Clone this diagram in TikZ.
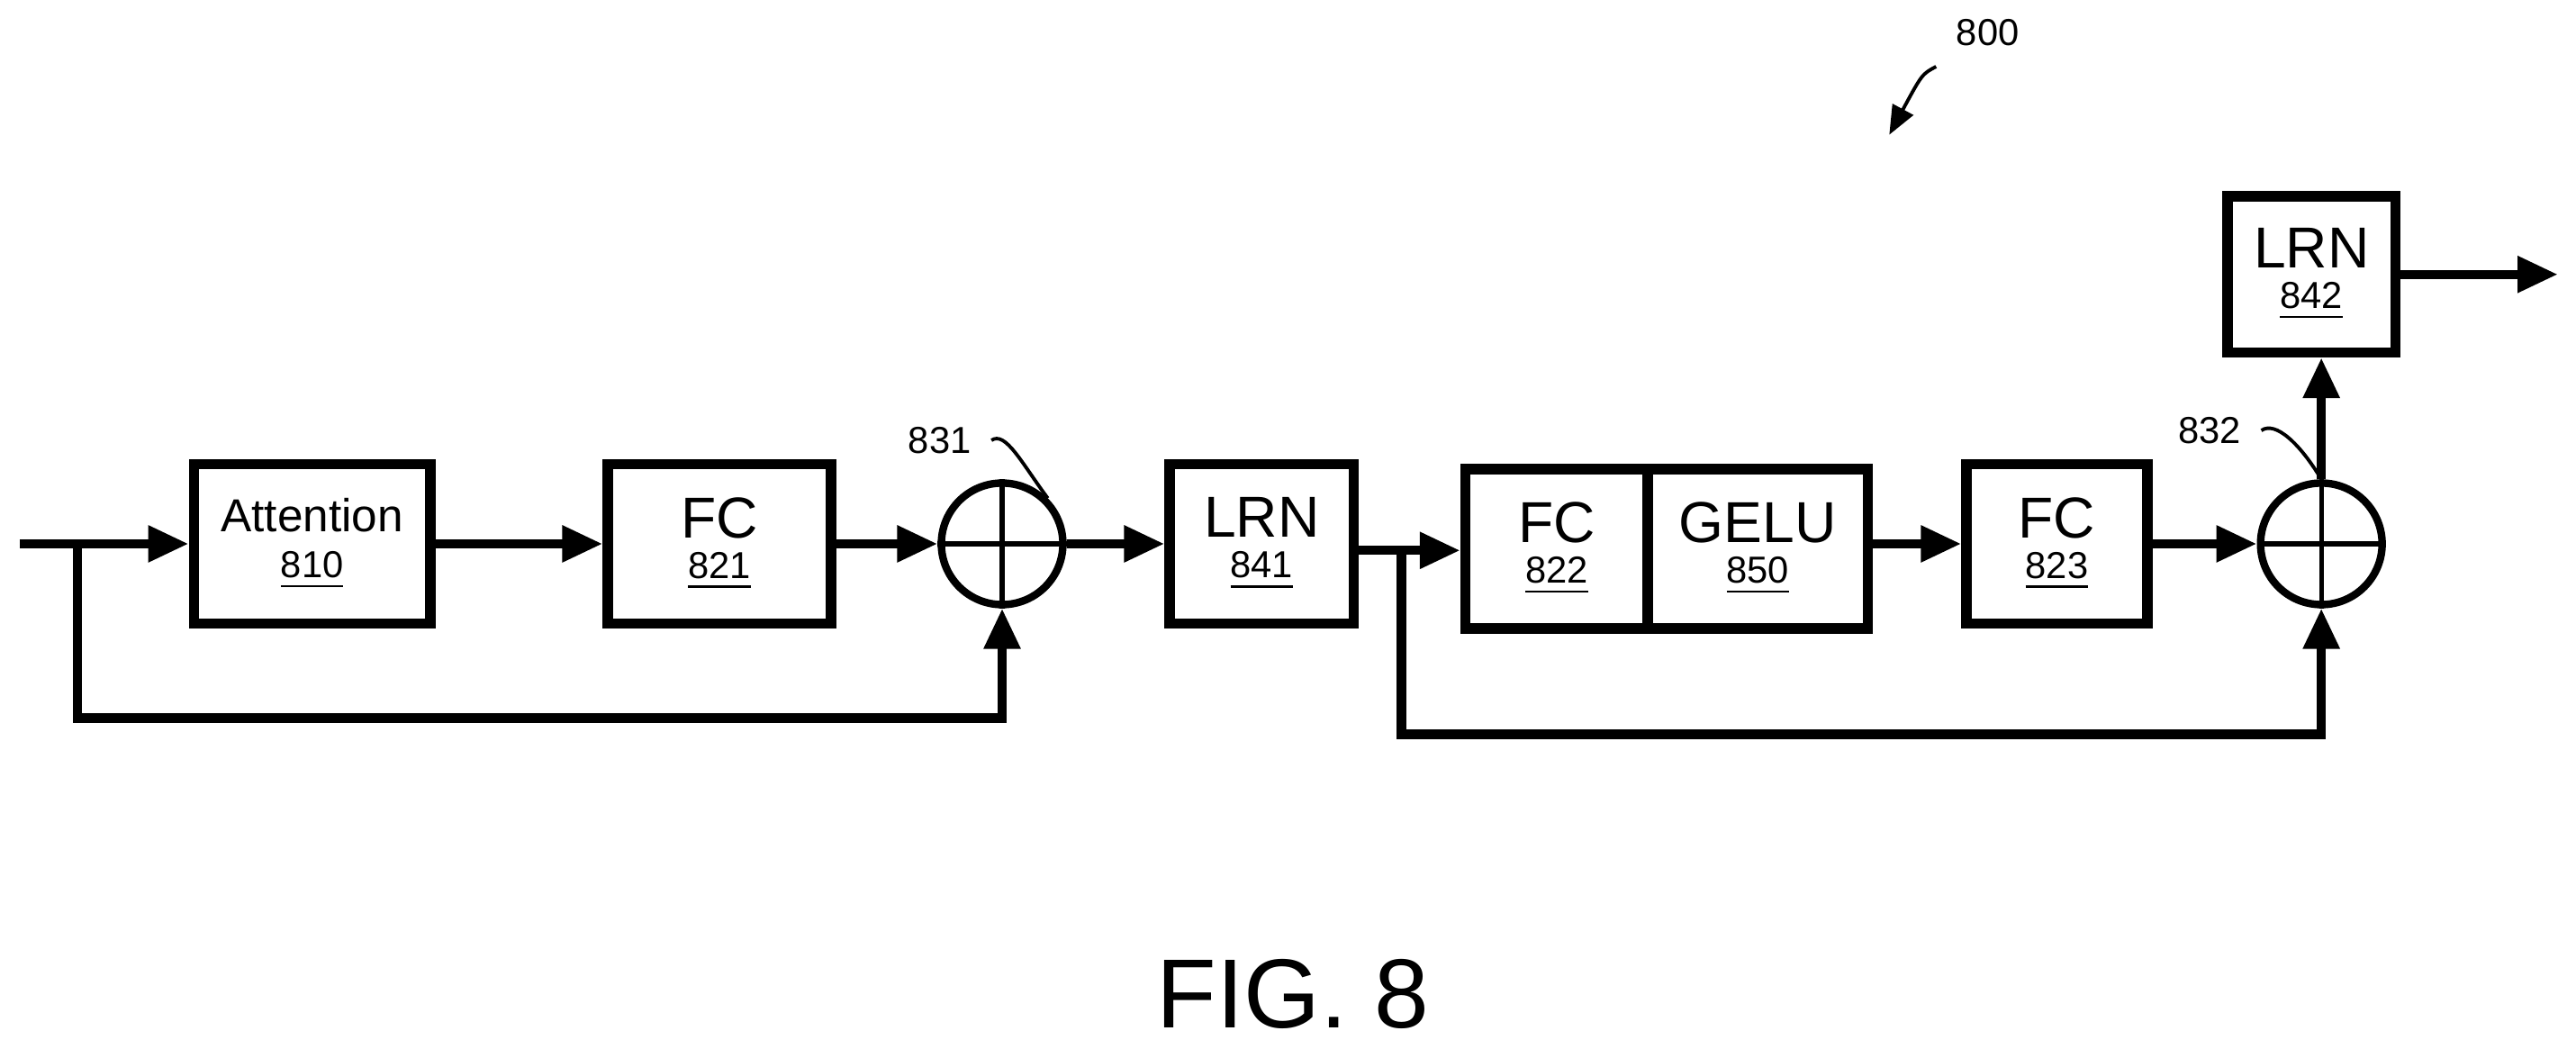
\documentclass[tikz,border=0pt]{standalone}
\usepackage{fontspec}
\setmainfont{Liberation Sans}
\usetikzlibrary{arrows.meta}
\newcommand{\smf}{\fontsize{6.5}{7}\selectfont}
\begin{document}
\begin{tikzpicture}[x=0.01cm,y=-0.01cm,
  blk/.style={draw,line width=1.8pt,minimum width=#1*0.01cm,minimum height=97*0.01cm,inner sep=0pt,align=center,font=\fontsize{10}{10}\selectfont},
  sm/.style={font=\smf},
  ar/.style={line width=1.6pt,-{Triangle[length=7pt,width=6pt]}},
  lead/.style={line width=0.6pt}]
\useasboundingbox (0,0) rectangle (1568,638);
\node[blk=144] (att) at (190,331) {\fontsize{8}{9}\selectfont Attention\\[-2pt]{\smf\underline{810}}};
\node[blk=136] (fc1) at (438,331) {FC\\[-3pt]{\smf\underline{821}}};
\node[draw,circle,line width=1.3pt,minimum size=74*0.01cm,inner sep=0pt] (s1) at (610,331) {};
\draw[line width=0.8pt] (s1.north)--(s1.south) (s1.west)--(s1.east);
\node[blk=112] (lrn1) at (768,331) {LRN\\[-3pt]{\smf\underline{841}}};
\node[blk=111] (fc2) at (947.5,334) {FC\\[-3pt]{\smf\underline{822}}};
\node[blk=134] (gelu) at (1070,334) {GELU\\[-3pt]{\smf\underline{850}}};
\node[blk=110] (fc3) at (1252,331) {FC\\[-3pt]{\smf\underline{823}}};
\node[draw,circle,line width=1.3pt,minimum size=74*0.01cm,inner sep=0pt] (s2) at (1413,331) {};
\draw[line width=0.8pt] (s2.north)--(s2.south) (s2.west)--(s2.east);
\node[blk=102,minimum height=95*0.01cm] (lrn2) at (1407,167) {LRN\\[-3pt]{\smf\underline{842}}};
\coordinate (in) at (12,331);
\coordinate (out) at (1557,167);
\coordinate (b1) at (47,331);
\coordinate (b2) at (853,335);
\draw[ar] (in)--(att.west);
\draw[ar] (att.east)--(fc1.west);
\draw[ar] (fc1.east)--(s1.west);
\draw[ar] (s1.east)--(lrn1.west);
\draw[ar] (lrn1.east|-b2)--(fc2.west|-b2);
\draw[ar] (gelu.east|-fc3)--(fc3.west);
\draw[ar] (fc3.east)--(s2.west);
\draw[ar] (s2.north)--(lrn2.south-|s2.north);
\draw[ar] (lrn2.east)--(out);
\draw[ar] (b1)--(47,437)--(610,437)--(s1.south);
\draw[ar] (b2)--(853,447)--(1413,447)--(s2.south);
\node[sm] (l831) at (572,268) {831};
\draw[lead] (l831.east) .. controls (612,262) and (622,282) .. (s1.north east);
\node[sm] (l832) at (1345,262) {832};
\draw[lead] (l832.east) .. controls (1385,256) and (1400,270) .. (s2.north);
\node[sm] (l800) at (1210,20) {800};
\coordinate (a800) at (1150,82);
\draw[lead,-{Triangle[length=5pt,width=4pt]}] (l800.south west) .. controls (1170,45) .. (a800);
\node[font=\fontsize{17}{20}\selectfont] (fig) at (787,605) {FIG. 8};
\end{tikzpicture}
\end{document}
